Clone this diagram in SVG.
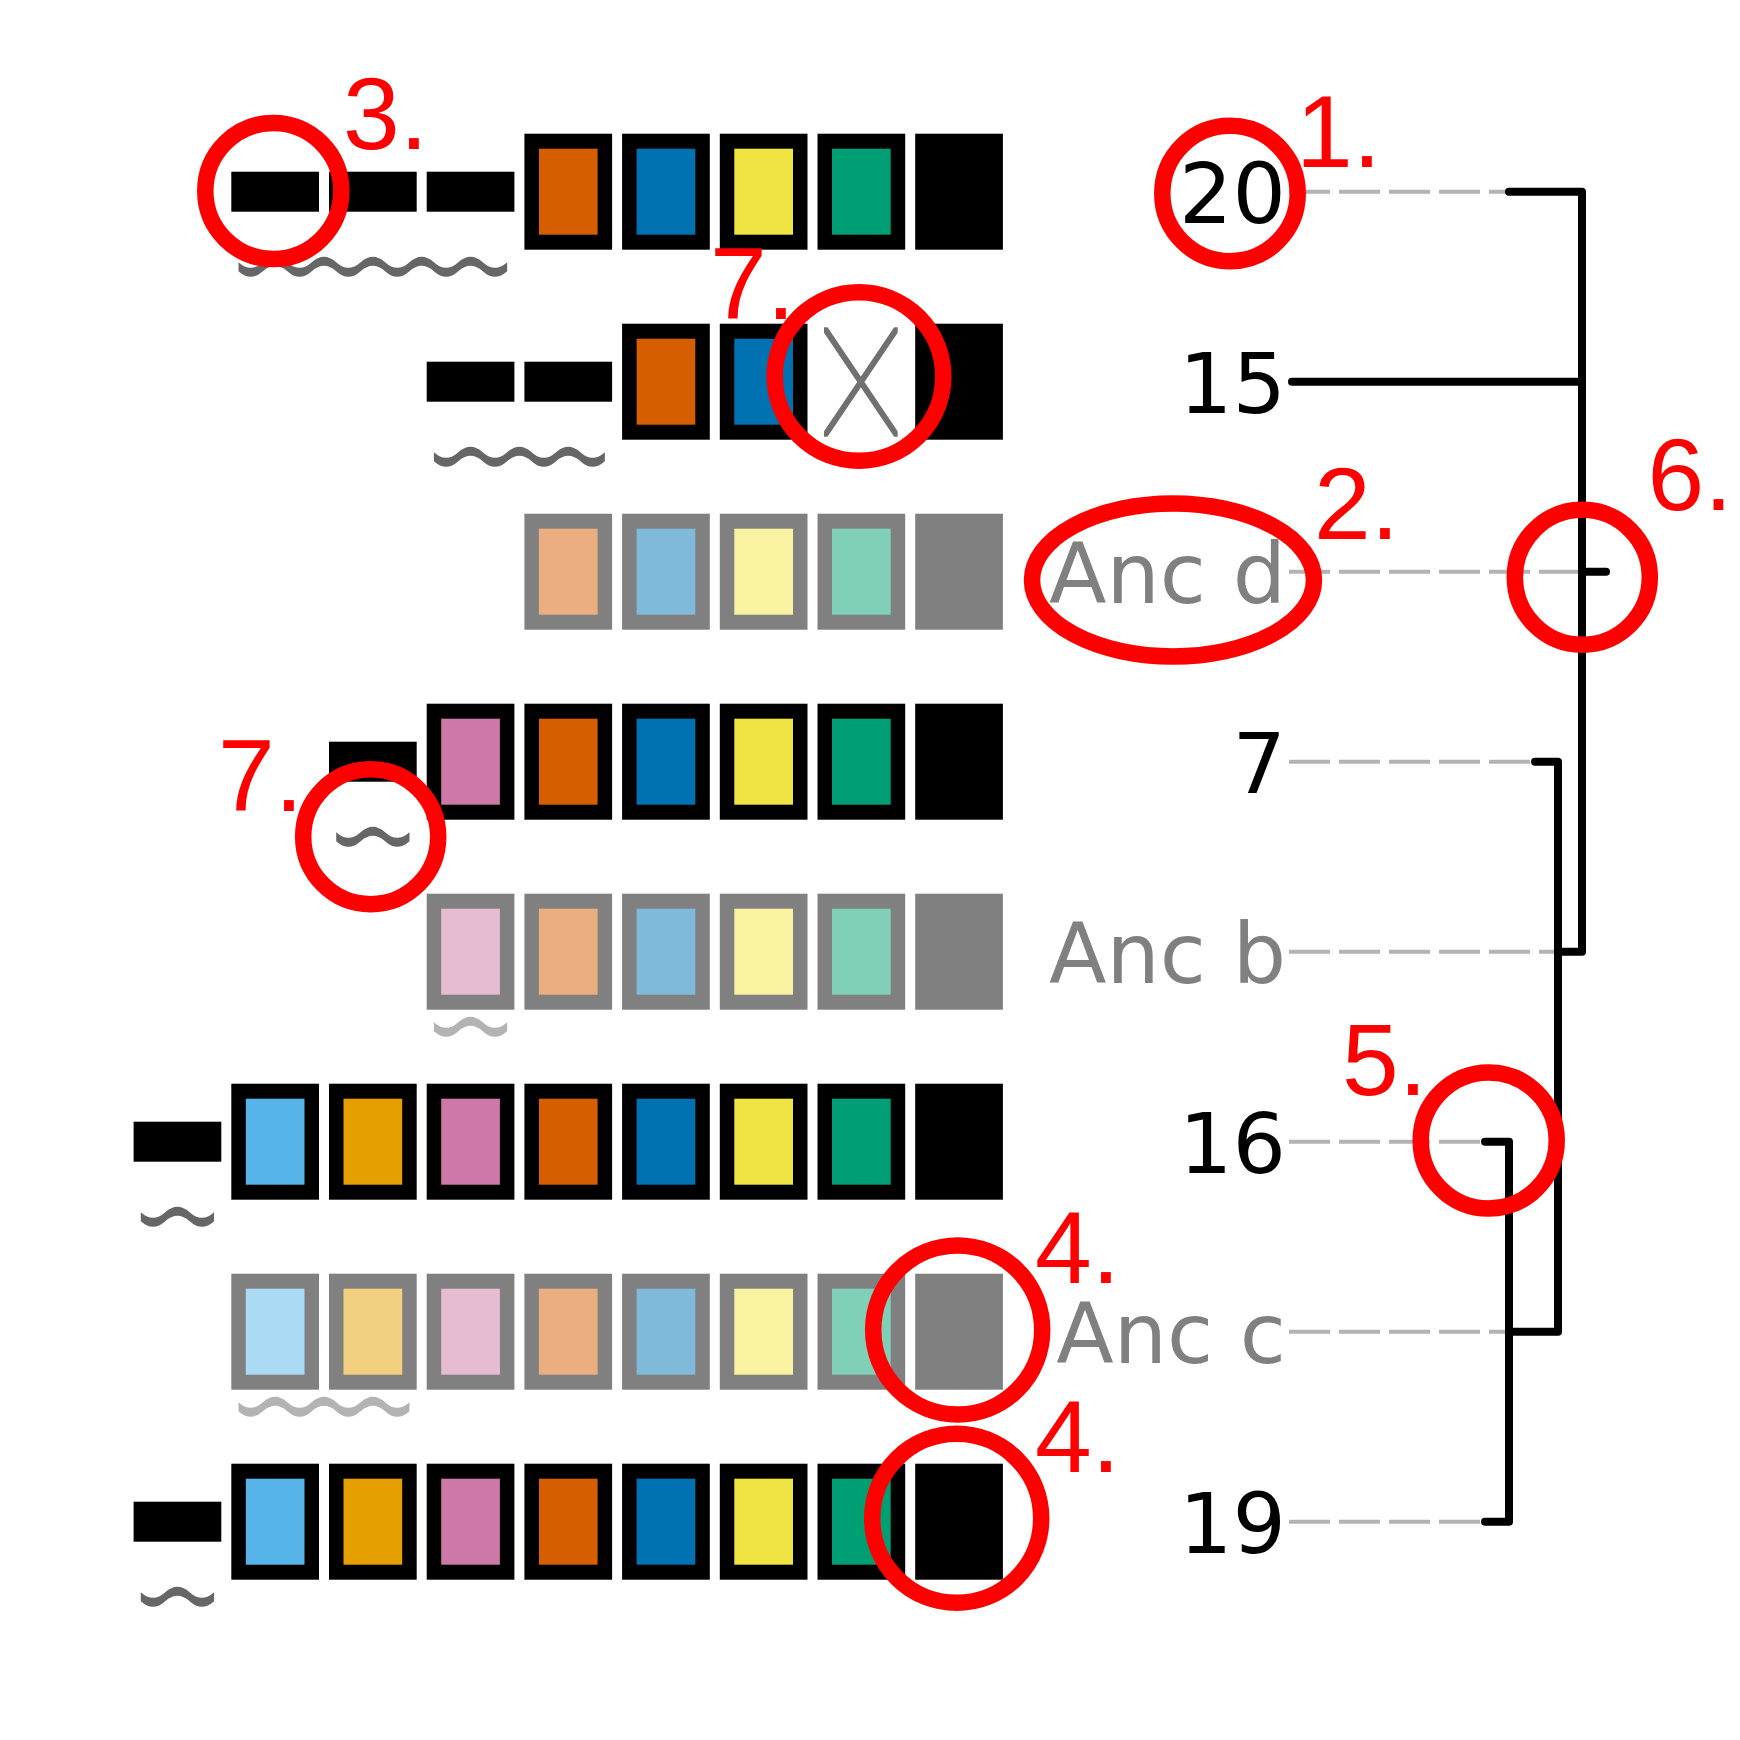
<svg xmlns="http://www.w3.org/2000/svg" width="1740" height="1740" viewBox="0 0 1740 1740">
<defs>
<style>
.fr{fill:#000}.frl{fill:#808080}
.or{fill:#D55E00}.bl{fill:#0072B2}.ye{fill:#F0E442}.gr{fill:#009E73}.pk{fill:#CC79A7}.sk{fill:#56B4E9}.am{fill:#E69F00}
.orl{fill:#EAAE80}.bll{fill:#80B9D9}.yel{fill:#F8F2A1}.grl{fill:#80CFB9}.pkl{fill:#E6BCD3}.skl{fill:#ABDAF4}.aml{fill:#F3CF80}
.wv{fill:#666666}.wvl{fill:#b3b3b3}
.lbl{font-family:"DejaVu Sans",sans-serif;font-size:84px;text-anchor:end}
.dk{fill:#000}.gy{fill:#808080}
.dash{stroke:#b3b3b3;stroke-width:4;stroke-dasharray:41 9;fill:none}
.tree{stroke:#000;stroke-width:8;fill:none;stroke-linecap:round;stroke-linejoin:round}
.ring{fill:none;stroke:#ff0000;stroke-width:16.5}
.note{font-family:"Liberation Sans",Arial,sans-serif;font-size:102px;fill:#ff0000}
.xl{stroke:#707070;stroke-width:6;fill:none}
</style>
<clipPath id="xclip"><rect x="824" y="327.3" width="73.7" height="109.4"/></clipPath>
</defs>
<rect width="1740" height="1740" fill="#ffffff"/>

<g id="node-20">
<rect class="fr" x="231.3" y="171.7" width="87.7" height="40"/>
<rect class="fr" x="329" y="171.7" width="87.7" height="40"/>
<rect class="fr" x="426.7" y="171.7" width="87.7" height="40"/>
<rect class="fr" x="524.4" y="133.7" width="87.7" height="116"/><rect class="or" x="538.9" y="148.7" width="58.7" height="86"/>
<rect class="fr" x="622.1" y="133.7" width="87.7" height="116"/><rect class="bl" x="636.6" y="148.7" width="58.7" height="86"/>
<rect class="fr" x="719.8" y="133.7" width="87.7" height="116"/><rect class="ye" x="734.3" y="148.7" width="58.7" height="86"/>
<rect class="fr" x="817.5" y="133.7" width="87.7" height="116"/><rect class="gr" x="832" y="148.7" width="58.7" height="86"/>
<rect class="fr" x="915.2" y="133.7" width="87.7" height="116"/>
<path class="wv" d="M238.5,262.2q12.2125,11 24.425,0t24.425,0t24.425,0t24.425,0t24.425,0t24.425,0t24.425,0t24.425,0t24.425,0t24.425,0t24.425,0v9q-12.2125,11 -24.425,0t-24.425,0t-24.425,0t-24.425,0t-24.425,0t-24.425,0t-24.425,0t-24.425,0t-24.425,0t-24.425,0t-24.425,0z"/>
<text class="lbl dk" x="1286" y="222.7">20</text>
</g>

<g id="node-15">
<rect class="fr" x="426.7" y="361.7" width="87.7" height="40"/>
<rect class="fr" x="524.4" y="361.7" width="87.7" height="40"/>
<rect class="fr" x="622.1" y="323.7" width="87.7" height="116"/><rect class="or" x="636.6" y="338.7" width="58.7" height="86"/>
<rect class="fr" x="719.8" y="323.7" width="87.7" height="116"/><rect class="bl" x="734.3" y="338.7" width="58.7" height="86"/>
<g clip-path="url(#xclip)">
<line class="xl" x1="820.6" y1="322.3" x2="901.1" y2="441.7"/>
<line class="xl" x1="901.1" y1="322.3" x2="820.6" y2="441.7"/>
</g>
<rect class="fr" x="915.2" y="323.7" width="87.7" height="116"/>
<path class="wv" d="M433.9,452.2q12.2125,11 24.425,0t24.425,0t24.425,0t24.425,0t24.425,0t24.425,0t24.425,0v9q-12.2125,11 -24.425,0t-24.425,0t-24.425,0t-24.425,0t-24.425,0t-24.425,0t-24.425,0z"/>
<text class="lbl dk" x="1286" y="412.7">15</text>
</g>

<g id="node-anc-d">
<rect class="frl" x="524.4" y="513.7" width="87.7" height="116"/><rect class="orl" x="538.9" y="528.7" width="58.7" height="86"/>
<rect class="frl" x="622.1" y="513.7" width="87.7" height="116"/><rect class="bll" x="636.6" y="528.7" width="58.7" height="86"/>
<rect class="frl" x="719.8" y="513.7" width="87.7" height="116"/><rect class="yel" x="734.3" y="528.7" width="58.7" height="86"/>
<rect class="frl" x="817.5" y="513.7" width="87.7" height="116"/><rect class="grl" x="832" y="528.7" width="58.7" height="86"/>
<rect class="frl" x="915.2" y="513.7" width="87.7" height="116"/>
<text class="lbl gy" x="1286" y="602.7">Anc d</text>
</g>

<g id="node-7">
<rect class="fr" x="329" y="741.7" width="87.7" height="40"/>
<rect class="fr" x="426.7" y="703.7" width="87.7" height="116"/><rect class="pk" x="441.2" y="718.7" width="58.7" height="86"/>
<rect class="fr" x="524.4" y="703.7" width="87.7" height="116"/><rect class="or" x="538.9" y="718.7" width="58.7" height="86"/>
<rect class="fr" x="622.1" y="703.7" width="87.7" height="116"/><rect class="bl" x="636.6" y="718.7" width="58.7" height="86"/>
<rect class="fr" x="719.8" y="703.7" width="87.7" height="116"/><rect class="ye" x="734.3" y="718.7" width="58.7" height="86"/>
<rect class="fr" x="817.5" y="703.7" width="87.7" height="116"/><rect class="gr" x="832" y="718.7" width="58.7" height="86"/>
<rect class="fr" x="915.2" y="703.7" width="87.7" height="116"/>
<path class="wv" d="M336.2,832.2q12.2125,11 24.425,0t24.425,0t24.425,0v9q-12.2125,11 -24.425,0t-24.425,0t-24.425,0z"/>
<text class="lbl dk" x="1286" y="792.7">7</text>
</g>

<g id="node-anc-b">
<rect class="frl" x="426.7" y="893.7" width="87.7" height="116"/><rect class="pkl" x="441.2" y="908.7" width="58.7" height="86"/>
<rect class="frl" x="524.4" y="893.7" width="87.7" height="116"/><rect class="orl" x="538.9" y="908.7" width="58.7" height="86"/>
<rect class="frl" x="622.1" y="893.7" width="87.7" height="116"/><rect class="bll" x="636.6" y="908.7" width="58.7" height="86"/>
<rect class="frl" x="719.8" y="893.7" width="87.7" height="116"/><rect class="yel" x="734.3" y="908.7" width="58.7" height="86"/>
<rect class="frl" x="817.5" y="893.7" width="87.7" height="116"/><rect class="grl" x="832" y="908.7" width="58.7" height="86"/>
<rect class="frl" x="915.2" y="893.7" width="87.7" height="116"/>
<path class="wvl" d="M433.9,1022.2q12.2125,11 24.425,0t24.425,0t24.425,0v9q-12.2125,11 -24.425,0t-24.425,0t-24.425,0z"/>
<text class="lbl gy" x="1286" y="982.7">Anc b</text>
</g>

<g id="node-16">
<rect class="fr" x="133.6" y="1121.7" width="87.7" height="40"/>
<rect class="fr" x="231.3" y="1083.7" width="87.7" height="116"/><rect class="sk" x="245.8" y="1098.7" width="58.7" height="86"/>
<rect class="fr" x="329" y="1083.7" width="87.7" height="116"/><rect class="am" x="343.5" y="1098.7" width="58.7" height="86"/>
<rect class="fr" x="426.7" y="1083.7" width="87.7" height="116"/><rect class="pk" x="441.2" y="1098.7" width="58.7" height="86"/>
<rect class="fr" x="524.4" y="1083.7" width="87.7" height="116"/><rect class="or" x="538.9" y="1098.7" width="58.7" height="86"/>
<rect class="fr" x="622.1" y="1083.7" width="87.7" height="116"/><rect class="bl" x="636.6" y="1098.7" width="58.7" height="86"/>
<rect class="fr" x="719.8" y="1083.7" width="87.7" height="116"/><rect class="ye" x="734.3" y="1098.7" width="58.7" height="86"/>
<rect class="fr" x="817.5" y="1083.7" width="87.7" height="116"/><rect class="gr" x="832" y="1098.7" width="58.7" height="86"/>
<rect class="fr" x="915.2" y="1083.7" width="87.7" height="116"/>
<path class="wv" d="M140.8,1212.2q12.2125,11 24.425,0t24.425,0t24.425,0v9q-12.2125,11 -24.425,0t-24.425,0t-24.425,0z"/>
<text class="lbl dk" x="1286" y="1172.7">16</text>
</g>

<g id="node-anc-c">
<rect class="frl" x="231.3" y="1273.7" width="87.7" height="116"/><rect class="skl" x="245.8" y="1288.7" width="58.7" height="86"/>
<rect class="frl" x="329" y="1273.7" width="87.7" height="116"/><rect class="aml" x="343.5" y="1288.7" width="58.7" height="86"/>
<rect class="frl" x="426.7" y="1273.7" width="87.7" height="116"/><rect class="pkl" x="441.2" y="1288.7" width="58.7" height="86"/>
<rect class="frl" x="524.4" y="1273.7" width="87.7" height="116"/><rect class="orl" x="538.9" y="1288.7" width="58.7" height="86"/>
<rect class="frl" x="622.1" y="1273.7" width="87.7" height="116"/><rect class="bll" x="636.6" y="1288.7" width="58.7" height="86"/>
<rect class="frl" x="719.8" y="1273.7" width="87.7" height="116"/><rect class="yel" x="734.3" y="1288.7" width="58.7" height="86"/>
<rect class="frl" x="817.5" y="1273.7" width="87.7" height="116"/><rect class="grl" x="832" y="1288.7" width="58.7" height="86"/>
<rect class="frl" x="915.2" y="1273.7" width="87.7" height="116"/>
<path class="wvl" d="M238.5,1402.2q12.2125,11 24.425,0t24.425,0t24.425,0t24.425,0t24.425,0t24.425,0t24.425,0v9q-12.2125,11 -24.425,0t-24.425,0t-24.425,0t-24.425,0t-24.425,0t-24.425,0t-24.425,0z"/>
<text class="lbl gy" x="1286" y="1362.7">Anc c</text>
</g>

<g id="node-19">
<rect class="fr" x="133.6" y="1501.7" width="87.7" height="40"/>
<rect class="fr" x="231.3" y="1463.7" width="87.7" height="116"/><rect class="sk" x="245.8" y="1478.7" width="58.7" height="86"/>
<rect class="fr" x="329" y="1463.7" width="87.7" height="116"/><rect class="am" x="343.5" y="1478.7" width="58.7" height="86"/>
<rect class="fr" x="426.7" y="1463.7" width="87.7" height="116"/><rect class="pk" x="441.2" y="1478.7" width="58.7" height="86"/>
<rect class="fr" x="524.4" y="1463.7" width="87.7" height="116"/><rect class="or" x="538.9" y="1478.7" width="58.7" height="86"/>
<rect class="fr" x="622.1" y="1463.7" width="87.7" height="116"/><rect class="bl" x="636.6" y="1478.7" width="58.7" height="86"/>
<rect class="fr" x="719.8" y="1463.7" width="87.7" height="116"/><rect class="ye" x="734.3" y="1478.7" width="58.7" height="86"/>
<rect class="fr" x="817.5" y="1463.7" width="87.7" height="116"/><rect class="gr" x="832" y="1478.7" width="58.7" height="86"/>
<rect class="fr" x="915.2" y="1463.7" width="87.7" height="116"/>
<path class="wv" d="M140.8,1592.2q12.2125,11 24.425,0t24.425,0t24.425,0v9q-12.2125,11 -24.425,0t-24.425,0t-24.425,0z"/>
<text class="lbl dk" x="1286" y="1552.7">19</text>
</g>

<g id="connectors">
<line class="dash" x1="1289" y1="191.7" x2="1509" y2="191.7"/>
<line class="dash" x1="1289" y1="571.7" x2="1582" y2="571.7"/>
<line class="dash" x1="1289" y1="761.7" x2="1535" y2="761.7"/>
<line class="dash" x1="1289" y1="951.7" x2="1558" y2="951.7"/>
<line class="dash" x1="1289" y1="1141.7" x2="1485" y2="1141.7"/>
<line class="dash" x1="1289" y1="1331.7" x2="1509" y2="1331.7"/>
<line class="dash" x1="1289" y1="1521.7" x2="1485" y2="1521.7"/>
<path class="tree" d="M1509,191.7H1582V951.7H1558"/>
<path class="tree" d="M1292,381.7H1582"/>
<path class="tree" d="M1582,571.7H1606"/>
<path class="tree" d="M1535,761.7H1558V1331.7H1509"/>
<path class="tree" d="M1485,1141.7H1509V1521.7H1485"/>
</g>

<g id="annotations">
<circle class="ring" cx="1230" cy="193.5" r="67.7"/>
<circle class="ring" cx="273.3" cy="191" r="68"/>
<circle class="ring" cx="859" cy="376.5" r="84.3"/>
<circle class="ring" cx="370.7" cy="836.7" r="67.5"/>
<circle class="ring" cx="1582.3" cy="577.3" r="67.5"/>
<circle class="ring" cx="1488.7" cy="1140.5" r="68"/>
<circle class="ring" cx="957.7" cy="1330" r="84.5"/>
<circle class="ring" cx="956.7" cy="1518.3" r="84.5"/>
<ellipse class="ring" cx="1173" cy="580" rx="141" ry="76.5"/>
<text class="note" x="1296" y="167">1.</text>
<text class="note" x="1314" y="539">2.</text>
<text class="note" x="343" y="149">3.</text>
<text class="note" x="1035" y="1283">4.</text>
<text class="note" x="1035" y="1471.7">4.</text>
<text class="note" x="1342" y="1095">5.</text>
<text class="note" x="1647.5" y="509.5">6.</text>
<text class="note" x="710" y="319">7.</text>
<text class="note" x="218" y="811">7.</text>
</g>
</svg>
